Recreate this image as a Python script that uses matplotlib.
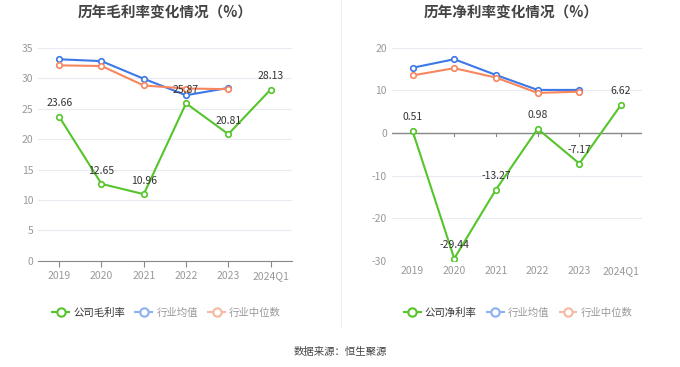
import matplotlib.pyplot as plt
from matplotlib.lines import Line2D

plt.rcParams['font.family'] = ['Noto Sans CJK SC', 'DejaVu Sans']
plt.rcParams['axes.unicode_minus'] = False

years = ['2019', '2020', '2021', '2022', '2023', '2024Q1']

gross_company = [23.66, 12.65, 10.96, 25.87, 20.81, 28.13]
gross_avg = [33.1, 32.8, 29.9, 27.2, 28.4]
gross_median = [32.1, 32.0, 28.8, 28.3, 28.2]

net_company = [0.51, -29.44, -13.27, 0.98, -7.17, 6.62]
net_avg = [15.3, 17.3, 13.6, 10.1, 10.1]
net_median = [13.5, 15.2, 13.0, 9.4, 9.7]

GREEN = '#55c52b'
BLUE = '#3c78e6'
ORANGE = '#f7865e'
GRID = '#e8ebf2'
TICK = '#999999'

fig = plt.figure(figsize=(6.8, 3.67), dpi=100)

ax1 = fig.add_axes([0.056, 0.289, 0.373, 0.581])
ax2 = fig.add_axes([0.576, 0.289, 0.368, 0.581])


def draw(ax, company, avg, median, ylim, yticks, zero_axis):
    x = list(range(len(years)))
    ax.plot(x[:len(avg)], avg, color=BLUE, lw=1.5, marker='o', ms=4,
            mfc='white', mew=1.2, zorder=3)
    ax.plot(x[:len(median)], median, color=ORANGE, lw=1.5, marker='o', ms=4,
            mfc='white', mew=1.2, zorder=3)
    ax.plot(x, company, color=GREEN, lw=1.5, marker='o', ms=4,
            mfc='white', mew=1.2, zorder=4)
    for xi, v in zip(x, company):
        ax.annotate(f'{v:.2f}', (xi, v), xytext=(0, 6), textcoords='offset points',
                    ha='center', va='bottom', fontsize=7.5, color='#333333', zorder=5)
    ax.set_xlim(-0.5, len(years) - 0.5)
    ax.set_ylim(*ylim)
    ax.set_yticks(yticks)
    ax.set_xticks(x)
    ax.set_xticklabels(years)
    ax.grid(axis='y', color=GRID, lw=0.8)
    ax.set_axisbelow(True)
    for s in ['left', 'right', 'top']:
        ax.spines[s].set_visible(False)
    ax.spines['bottom'].set_color('#888888')
    if zero_axis:
        ax.spines['bottom'].set_visible(False)
        ax.axhline(0, color='#888888', lw=1, zorder=2)
        for xi in x:
            ax.plot([xi, xi], [0, -0.8], color='#888888', lw=0.8, zorder=2)
        ax.tick_params(axis='x', length=0)
    else:
        ax.tick_params(axis='x', length=4, color='#888888')
    ax.tick_params(axis='y', length=0)
    ax.tick_params(labelsize=7.5, labelcolor=TICK)


draw(ax1, gross_company, gross_avg, gross_median, (0, 35), range(0, 36, 5), False)
draw(ax2, net_company, net_avg, net_median, (-30, 20), range(-30, 21, 10), True)

fig.text(0.243, 0.965, '历年毛利率变化情况（%）', ha='center', va='center',
         fontsize=10.5, fontweight='bold', color='#444444')
fig.text(0.752, 0.965, '历年净利率变化情况（%）', ha='center', va='center',
         fontsize=10.5, fontweight='bold', color='#444444')

# separator between panels
fig.add_artist(Line2D([0.502, 0.502], [0.11, 1.0], color='#eeeeee', lw=0.8))


def legend(label, xpos):
    handles = [
        Line2D([], [], color=GREEN, lw=1.5, marker='o', ms=6, mfc='white', mew=1.5),
        Line2D([], [], color='#8cb0f2', lw=1.5, marker='o', ms=6, mfc='white', mew=1.5),
        Line2D([], [], color='#f9b8a0', lw=1.5, marker='o', ms=6, mfc='white', mew=1.5),
    ]
    leg = fig.legend(handles, [label, '行业均值', '行业中位数'], loc='center',
                     bbox_to_anchor=(xpos, 0.147), ncol=3, frameon=False,
                     fontsize=7.5, handlelength=1.6, handletextpad=0.4,
                     columnspacing=1.0)
    texts = leg.get_texts()
    texts[0].set_color('#333333')
    texts[1].set_color('#999999')
    texts[2].set_color('#999999')


legend('公司毛利率', 0.245)
legend('公司净利率', 0.762)

fig.text(0.5, 0.04, '数据来源：恒生聚源', ha='center', va='center',
         fontsize=7.5, color='#444444')

fig.savefig('out.png', dpi=100)
